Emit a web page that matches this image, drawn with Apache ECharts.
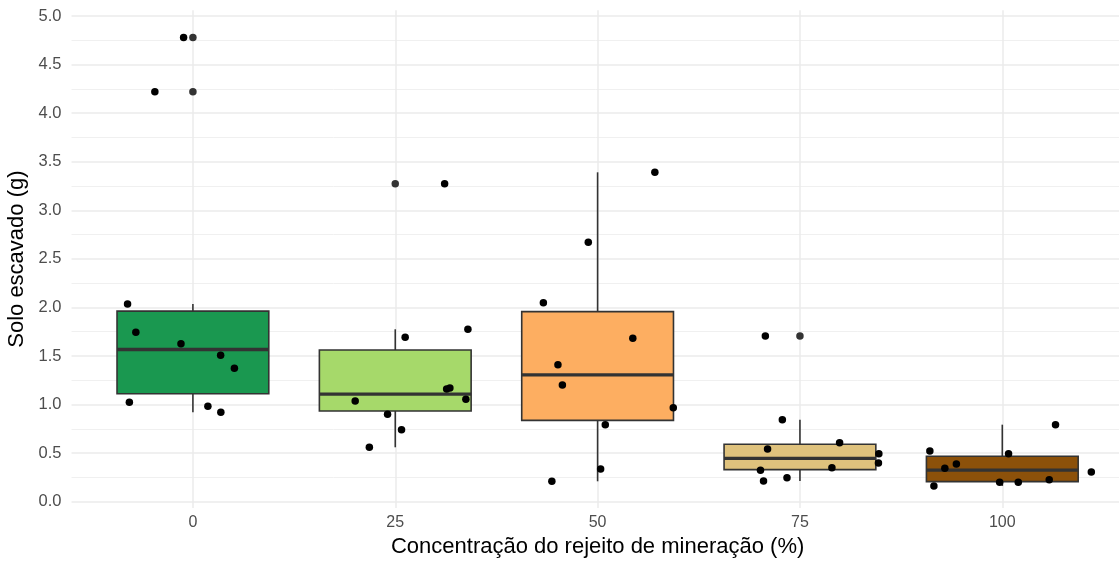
<!DOCTYPE html>
<html>
<head>
<meta charset="utf-8">
<style>
  html, body { margin: 0; padding: 0; background: #ffffff; }
  #chart { width: 1119px; height: 565px; }
</style>
<script src="https://cdn.jsdelivr.net/npm/echarts@6/dist/echarts.min.js"></script>
</head>
<body>
<div id="chart"></div>
<script>
// Mining-tailings concentration groups (x-axis categories)
const categories = ['0', '25', '50', '75', '100'];
const boxColors = ['#1a9850', '#a6d96a', '#fdae61', '#dfc27d', '#8c510a'];

// Excavated soil (g) per replicate, and horizontal jitter (category units)
const solo0 = [4.78, 4.22, 2.035, 1.744, 1.627, 1.507, 1.373, 1.023, 0.982, 0.920];
const jitter0 = [-0.046, -0.188, -0.323, -0.282, -0.059, 0.137, 0.205, -0.314, 0.074, 0.138];
const solo25 = [3.274, 1.692, 1.775, 1.160, 1.170, 1.054, 0.900, 0.741, 0.560, 1.037];
const jitter25 = [0.244, 0.049, 0.359, 0.254, 0.270, 0.349, -0.038, 0.031, -0.128, -0.198];
const solo50 = [3.391, 2.670, 2.049, 1.682, 1.410, 1.201, 0.968, 0.793, 0.337, 0.210];
const jitter50 = [0.283, -0.046, -0.268, 0.174, -0.196, -0.174, 0.374, 0.038, 0.015, -0.226];
const solo75 = [1.706, 0.844, 0.542, 0.607, 0.494, 0.398, 0.350, 0.323, 0.213, 0.247];
const jitter75 = [-0.171, -0.087, -0.160, 0.196, 0.390, 0.388, 0.158, -0.195, -0.180, -0.064];
const solo100 = [0.522, 0.344, 0.388, 0.162, 0.494, 0.200, 0.200, 0.227, 0.306, 0.793];
const jitter100 = [-0.358, -0.284, -0.227, -0.338, 0.031, -0.013, 0.079, 0.232, 0.440, 0.263];

// Y tick labels and minor grid positions
const yTicks = [0, 0.5, 1, 1.5, 2, 2.5, 3, 3.5, 4, 4.5, 5];
const yMinor = [0.25, 0.75, 1.25, 1.75, 2.25, 2.75, 3.25, 3.75, 4.25, 4.75];

const groups = [solo0, solo25, solo50, solo75, solo100];
const jitters = [jitter0, jitter25, jitter50, jitter75, jitter100];

// Type-7 quantile on a sorted array
function quantile(sorted, p) {
  const h = (sorted.length - 1) * p;
  const lo = Math.floor(h);
  const hi = Math.min(lo + 1, sorted.length - 1);
  return sorted[lo] + (h - lo) * (sorted[hi] - sorted[lo]);
}

// Tukey box statistics: whiskers reach the most extreme values inside 1.5 IQR
const boxData = [];
const outlierData = [];
groups.forEach(function (vals, i) {
  const s = vals.slice().sort(function (a, b) { return a - b; });
  const q1 = quantile(s, 0.25), med = quantile(s, 0.5), q3 = quantile(s, 0.75);
  const iqr = q3 - q1;
  const inside = s.filter(function (v) { return v >= q1 - 1.5 * iqr && v <= q3 + 1.5 * iqr; });
  const lo = inside[0], hi = inside[inside.length - 1];
  boxData.push([i + 1, lo, q1, med, q3, hi]);
  s.forEach(function (v) { if (v < lo || v > hi) outlierData.push([i + 1, v]); });
});

const pointData = [];
groups.forEach(function (vals, i) {
  vals.forEach(function (v, k) { pointData.push([i + 1 + jitters[i][k], v]); });
});

const BOX_WIDTH = 0.75;

const chart = echarts.init(document.getElementById('chart'), null, { renderer: 'canvas' });

chart.setOption({
  backgroundColor: '#ffffff',
  animation: false,
  grid: {
    left: 71.5,
    top: 10.2,
    width: 1052.2,
    height: 497.8,
    containLabel: false,
    outerBoundsMode: 'none'
  },
  xAxis: {
    type: 'value',
    min: 0.4,
    max: 5.6,
    name: 'Concentração do rejeito de mineração (%)',
    nameLocation: 'middle',
    nameGap: 25,
    nameTextStyle: { fontFamily: 'Liberation Sans', fontSize: 22, color: '#000000', verticalAlign: 'top' },
    axisLine: { show: false },
    axisTick: { show: false, customValues: [1, 2, 3, 4, 5] },
    axisLabel: {
      customValues: [1, 2, 3, 4, 5],
      formatter: function (v) { return categories[Math.round(v) - 1]; },
      fontFamily: 'Liberation Sans', fontSize: 16, color: '#4d4d4d', margin: 7
    },
    splitLine: { show: true, lineStyle: { color: '#ebebeb', width: 1.5 } }
  },
  yAxis: [{
    type: 'value',
    min: -0.065,
    max: 5.06,
    name: 'Solo escavado (g)',
    nameLocation: 'middle',
    nameRotate: 90,
    nameGap: 38,
    nameTextStyle: { fontFamily: 'Liberation Sans', fontSize: 22, color: '#000000' },
    axisLine: { show: false },
    axisTick: { show: false, customValues: yTicks },
    axisLabel: {
      customValues: yTicks,
      formatter: function (v) { return v.toFixed(1); },
      fontFamily: 'Liberation Sans', fontSize: 16.5, color: '#4d4d4d', margin: 10
    },
    splitLine: { show: true, lineStyle: { color: '#ebebeb', width: 1.5 } }
  }, {
    type: 'value',
    min: -0.065,
    max: 5.06,
    axisLine: { show: false },
    axisTick: { show: false, customValues: yMinor },
    axisLabel: { show: false },
    splitLine: { show: true, lineStyle: { color: '#f0f0f0', width: 1 } }
  }],
  series: [{
    type: 'custom',
    name: 'box',
    z: 2,
    data: boxData,
    renderItem: function (params, api) {
      const x = api.value(0);
      const pLo = api.coord([x, api.value(1)]);
      const pQ1 = api.coord([x, api.value(2)]);
      const pMed = api.coord([x, api.value(3)]);
      const pQ3 = api.coord([x, api.value(4)]);
      const pHi = api.coord([x, api.value(5)]);
      const left = api.coord([x - BOX_WIDTH / 2, 0])[0];
      const right = api.coord([x + BOX_WIDTH / 2, 0])[0];
      const stroke = '#333333';
      return {
        type: 'group',
        children: [
          { type: 'line', shape: { x1: pHi[0], y1: pHi[1], x2: pQ3[0], y2: pQ3[1] },
            style: { stroke: stroke, lineWidth: 1.6 } },
          { type: 'line', shape: { x1: pLo[0], y1: pLo[1], x2: pQ1[0], y2: pQ1[1] },
            style: { stroke: stroke, lineWidth: 1.6 } },
          { type: 'rect', shape: { x: left, y: pQ3[1], width: right - left, height: pQ1[1] - pQ3[1] },
            style: { fill: boxColors[params.dataIndex], stroke: stroke, lineWidth: 1.6 } },
          { type: 'line', shape: { x1: left, y1: pMed[1], x2: right, y2: pMed[1] },
            style: { stroke: stroke, lineWidth: 3.4 } }
        ]
      };
    }
  }, {
    type: 'scatter',
    name: 'outliers',
    z: 3,
    data: outlierData,
    symbolSize: 7.5,
    itemStyle: { color: '#333333', opacity: 1 }
  }, {
    type: 'scatter',
    name: 'points',
    z: 4,
    data: pointData,
    symbolSize: 7.5,
    itemStyle: { color: '#000000', opacity: 1 }
  }]
});
</script>
</body>
</html>
